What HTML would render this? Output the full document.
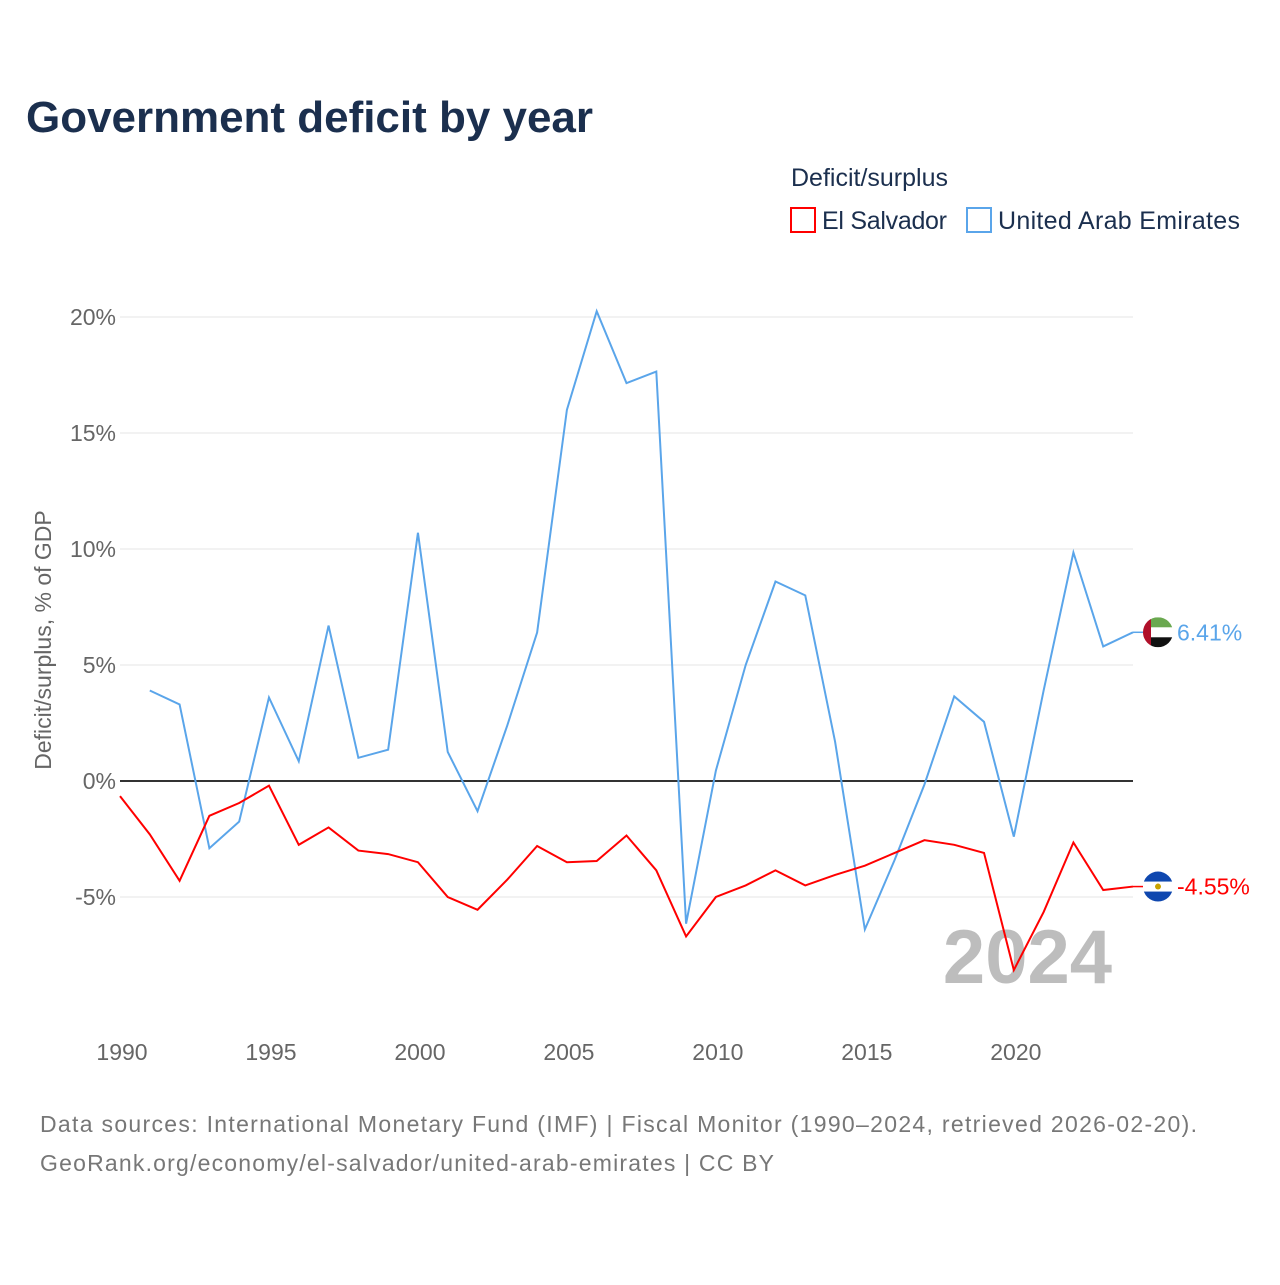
<!DOCTYPE html>
<html><head><meta charset="utf-8"><style>
body{margin:0;background:#fff;font-family:"Liberation Sans",sans-serif;}
svg text{font-family:"Liberation Sans",sans-serif;}
</style></head><body>
<svg id="chart" width="1280" height="1280" viewBox="0 0 1280 1280" xmlns="http://www.w3.org/2000/svg">
<defs><clipPath id="fc1"><circle cx="1158" cy="0" r="15"/></clipPath></defs>
<text x="26" y="132" font-size="44" font-weight="bold" fill="#1b2f4e" textLength="567">Government deficit by year</text>
<text x="791" y="186" font-size="25" fill="#1b2f4e">Deficit/surplus</text>
<g><rect x="791" y="208" width="24" height="24" fill="none" stroke="#ff0000" stroke-width="2"/><text x="822" y="229" font-size="25" fill="#1b2f4e" textLength="125">El Salvador</text></g>
<g><rect x="967" y="208" width="24" height="24" fill="none" stroke="#5aa5ea" stroke-width="2"/><text x="998" y="229" font-size="25" fill="#1b2f4e" textLength="242">United Arab Emirates</text></g>
<g id="grid"></g>
<g id="xaxis"></g>
<text transform="translate(51,640) rotate(-90)" text-anchor="middle" font-size="23" fill="#666">Deficit/surplus, % of GDP</text>
<text x="1112" y="983" text-anchor="end" font-size="76" font-weight="bold" fill="#bdbdbd">2024</text>
<g id="series"></g>
<text x="40" y="1132" font-size="23" fill="#777" textLength="1157">Data sources: International Monetary Fund (IMF) | Fiscal Monitor (1990–2024, retrieved 2026-02-20).</text>
<text x="40" y="1171" font-size="23" fill="#777" textLength="734">GeoRank.org/economy/el-salvador/united-arab-emirates | CC BY</text>
</svg>
<script>
const years=[];for(let y=1990;y<=2024;y++)years.push(y);
const elSalvador=[-0.65,-2.3,-4.3,-1.5,-0.95,-0.2,-2.75,-2.0,-3.0,-3.15,-3.5,-5.0,-5.55,-4.25,-2.8,-3.5,-3.45,-2.35,-3.85,-6.7,-5.0,-4.5,-3.85,-4.5,-4.05,-3.65,-3.1,-2.55,-2.75,-3.1,-8.15,-5.65,-2.65,-4.7,-4.55];
const uae=[null,3.9,3.3,-2.9,-1.75,3.6,0.85,6.7,1.0,1.35,10.7,1.25,-1.3,2.4,6.4,16.0,20.25,17.15,17.65,-6.15,0.45,5.0,8.6,8.0,1.7,-6.4,-3.4,-0.15,3.65,2.55,-2.4,3.9,9.85,5.8,6.41];
const yTicks=[-5,0,5,10,15,20];
const xTicks=[1990,1995,2000,2005,2010,2015,2020];
const NS="http://www.w3.org/2000/svg";
const xs=y=>120+(y-1990)*(1133-120)/34;
const ys=v=>781-v*23.2;
function mk(t,a,p){const e=document.createElementNS(NS,t);for(const k in a)e.setAttribute(k,a[k]);p.appendChild(e);return e;}
const grid=document.getElementById('grid');
yTicks.forEach(v=>{
 const l=mk('line',{x1:120,x2:1133,y1:ys(v),y2:ys(v),stroke:v===0?'#333':'#e6e6e6','stroke-width':v===0?2:1},grid);
 
 
 const t=mk('text',{x:116,y:ys(v)+8,'text-anchor':'end','font-size':23,fill:'#666'},grid);
 
 
 t.textContent=v+'%';
});
const xa=document.getElementById('xaxis');
xTicks.forEach(y=>{
 const t=mk('text',{x:xs(y)+2,y:1060,'text-anchor':'middle','font-size':23,fill:'#666'},xa);
 
 
 t.textContent=y;
});
const sg=document.getElementById('series');
function line(vals,color,name){
 let d='';vals.forEach((v,i)=>{if(v==null)return;d+=(d?'L':'M')+xs(years[i])+','+ys(v);});
 const p=mk('path',{d:d,fill:'none',stroke:color,'stroke-width':2},sg);
 
 
}
line(uae,'#5aa5ea','line-uae');
line(elSalvador,'#ff0000','line-el-salvador');
function endLabel(v,color,name,flag){
 const y=ys(v);
 const l=mk('line',{x1:1133,x2:1146,y1:y,y2:y,stroke:color,'stroke-width':1.5},sg);
 
 
 const g=mk('g',{},sg);
 
 
 if(flag==='uae'){
  const inner=mk('g',{'clip-path':'url(#fc1)',transform:`translate(0,${y})`},g);
  mk('rect',{x:1140,y:-15,width:40,height:30,fill:'#fff'},inner);
  mk('rect',{x:1150,y:-15,width:30,height:10,fill:'#6aa84f'},inner);
  mk('rect',{x:1150,y:5,width:30,height:10,fill:'#111'},inner);
  mk('rect',{x:1140,y:-15,width:11,height:30,fill:'#b0102a'},inner);
 }else{
  mk('circle',{cx:1158,cy:y,r:15,fill:'#0f47af'},g);
  mk('rect',{x:1143,y:y-5,width:30,height:10,fill:'#fff'},g);
  mk('circle',{cx:1158,cy:y,r:3,fill:'#c9a300'},g);
 }
 const t=mk('text',{x:1177,y:y+8,'font-size':23,fill:color},sg);
 
 
 t.textContent=v.toFixed(2)+'%';
}
endLabel(uae[uae.length-1],'#5aa5ea','uae','uae');
endLabel(elSalvador[elSalvador.length-1],'#ff0000','el-salvador','sv');
</script>
</body></html>
